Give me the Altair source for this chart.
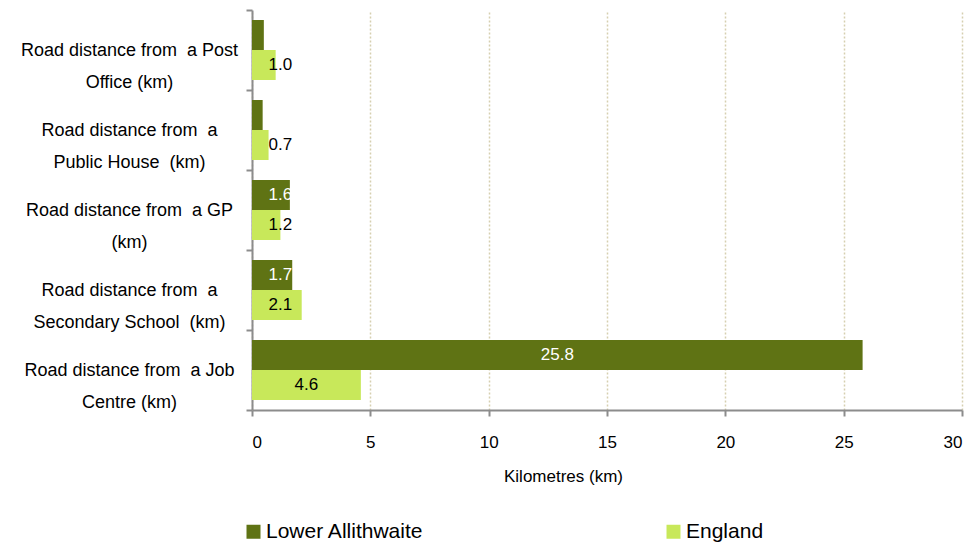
import altair as alt
import pandas as pd

NB = "\u00a0"
categories = [
    f"Road distance from {NB}a Post\nOffice (km)",
    f"Road distance from {NB}a\nPublic House {NB}(km)",
    f"Road distance from {NB}a GP\n(km)",
    f"Road distance from {NB}a\nSecondary School {NB}(km)",
    f"Road distance from {NB}a Job\nCentre (km)",
]
series_names = ["Lower Allithwaite", "England"]
lower_allithwaite = [0.5, 0.45, 1.6, 1.7, 25.8]
england = [1.0, 0.7, 1.2, 2.1, 4.6]
x_ticks = [0, 5, 10, 15, 20, 25, 30]

rows = []
for c, a, e in zip(categories, lower_allithwaite, england):
    rows.append({"category": c, "series": series_names[0], "value": a})
    rows.append({"category": c, "series": series_names[1], "value": e})
df = pd.DataFrame(rows)

DARK = "#5F7314"
LIGHT = "#C8E85A"
FONT = "Liberation Sans"
AXIS_GRAY = "#8C8C8C"

y_enc = alt.Y(
    "category:N",
    sort=categories,
    scale=alt.Scale(paddingInner=0, paddingOuter=0),
    axis=alt.Axis(
        title=None,
        labelExpr="isValid(datum.value) ? split(datum.value, '\\n') : ''",
        labelAlign="center",
        labelBaseline="middle",
        labelPadding=117,
        labelLineHeight=32,
        labelFontSize=18,
        labelFont=FONT,
        labelColor="#000000",
        labelLimit=400,
        tickBand="extent",
        domainColor=AXIS_GRAY,
        domainWidth=2,
        tickColor=AXIS_GRAY,
        tickWidth=2,
        tickSize=6,
        grid=False,
    ),
)
yoff_enc = alt.YOffset(
    "series:N",
    sort=series_names,
    scale=alt.Scale(paddingInner=0, paddingOuter=0.333),
)
x_enc = alt.X(
    "value:Q",
    scale=alt.Scale(domain=[0, 30], nice=False),
    axis=alt.Axis(
        values=x_ticks,
        title="Kilometres (km)",
        titleFont=FONT,
        titleFontSize=17,
        titleFontWeight="normal",
        titleColor="#000000",
        titleX=311,
        titleY=66,
        titleAlign="center",
        titleBaseline="middle",
        labelFont=FONT,
        labelFontSize=17,
        labelColor="#000000",
        labelPadding=18,
        domainColor=AXIS_GRAY,
        domainWidth=2,
        tickColor=AXIS_GRAY,
        tickWidth=2,
        tickSize=6,
        grid=True,
        gridColor="#D6CFB0",
        gridDash=[2, 2],
        gridWidth=1.5,
    ),
)

bars = alt.Chart(df).mark_bar().encode(
    x=x_enc,
    y=y_enc,
    yOffset=yoff_enc,
    color=alt.Color(
        "series:N",
        sort=series_names,
        scale=alt.Scale(domain=series_names, range=[DARK, LIGHT]),
        legend=alt.Legend(
            title=None,
            orient="none",
            legendX=-9,
            legendY=511,
            direction="horizontal",
            columnPadding=239,
            symbolType="square",
            symbolSize=196,
            symbolStrokeWidth=0,
            symbolOpacity=1,
            labelFont=FONT,
            labelFontSize=21,
            labelColor="#000000",
            labelOffset=2,
            labelLimit=400,
        ),
    ),
)

labels = (
    alt.Chart(df)
    .transform_filter("datum.series == 'England' || datum.value >= 1")
    .transform_calculate(lx="max(datum.value / 2, 1.2)")
    .mark_text(font=FONT, fontSize=17, align="center", baseline="middle")
    .encode(
        x=alt.X("lx:Q"),
        y=alt.Y("category:N", sort=categories),
        yOffset=alt.YOffset("series:N", sort=series_names),
        text=alt.Text("value:Q", format=".1f"),
        color=alt.condition(
            "datum.series == 'Lower Allithwaite'",
            alt.value("#FFFFFF"),
            alt.value("#000000"),
        ),
    )
)

chart = (
    alt.layer(bars, labels)
    .properties(
        width=710,
        height=400,
        autosize=alt.AutoSizeParams(type="none"),
        padding={"left": 244, "top": 2, "right": 3, "bottom": 132},
        background="#FFFFFF",
    )
    .configure_view(stroke=None)
)

chart.save("out.html", embed_options={"renderer": "svg", "actions": False})
